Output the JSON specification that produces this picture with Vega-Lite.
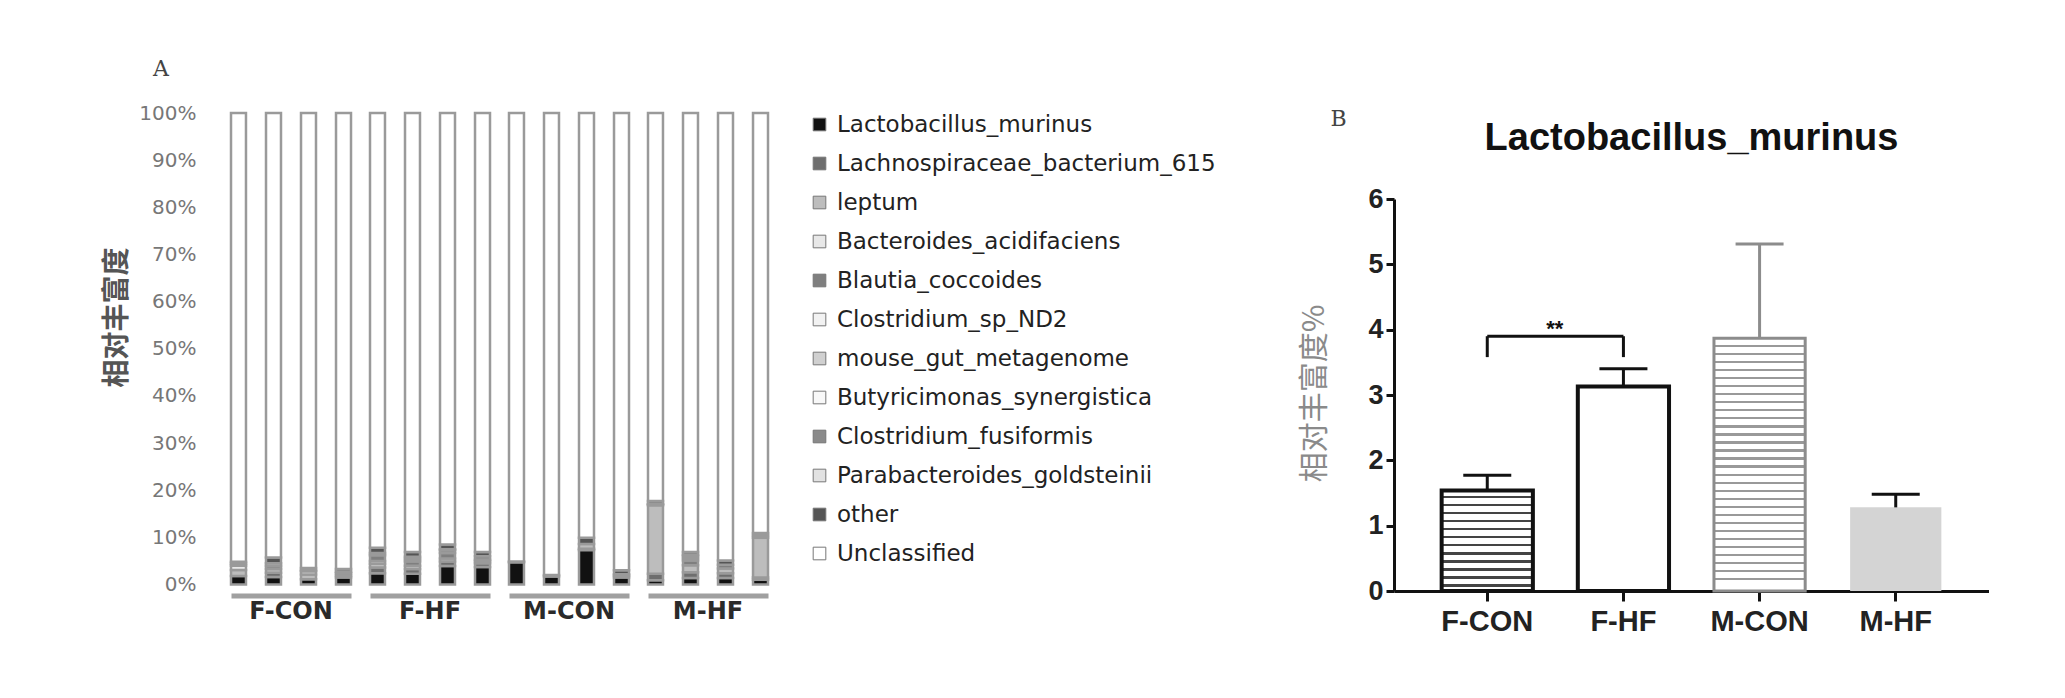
{
  "$schema": "https://vega.github.io/schema/vega-lite/v6.json",
  "background": "white",
  "padding": {"left": 103, "top": 58, "right": 0, "bottom": 0},
  "spacing": 83,
  "resolve": {"legend": {"color": "independent"}},
  "config": {"view": {"stroke": null}, "axis": {"grid": false}},
  "datasets": {
    "taxa": [
      {"taxon": "Lactobacillus_murinus", "rank": 1},
      {"taxon": "Lachnospiraceae_bacterium_615", "rank": 2},
      {"taxon": "leptum", "rank": 3},
      {"taxon": "Bacteroides_acidifaciens", "rank": 4},
      {"taxon": "Blautia_coccoides", "rank": 5},
      {"taxon": "Clostridium_sp_ND2", "rank": 6},
      {"taxon": "mouse_gut_metagenome", "rank": 7},
      {"taxon": "Butyricimonas_synergistica", "rank": 8},
      {"taxon": "Clostridium_fusiformis", "rank": 9},
      {"taxon": "Parabacteroides_goldsteinii", "rank": 10},
      {"taxon": "other", "rank": 11},
      {"taxon": "Unclassified", "rank": 12}
    ],
    "samples": [
      {"sample": "F-CON-1", "group": "F-CON", "Lactobacillus_murinus": 1.8, "leptum": 1.3, "Bacteroides_acidifaciens": 0.9, "Clostridium_sp_ND2": 0.4, "Parabacteroides_goldsteinii": 0.4, "Unclassified": 95.2},
      {"sample": "F-CON-2", "group": "F-CON", "Lactobacillus_murinus": 1.6, "Lachnospiraceae_bacterium_615": 0.9, "leptum": 0.8, "Blautia_coccoides": 0.6, "mouse_gut_metagenome": 0.6, "other": 1.2, "Unclassified": 94.3},
      {"sample": "F-CON-3", "group": "F-CON", "Lactobacillus_murinus": 1.1, "leptum": 1.0, "Bacteroides_acidifaciens": 0.7, "Clostridium_sp_ND2": 0.2, "other": 0.5, "Unclassified": 96.5},
      {"sample": "F-CON-4", "group": "F-CON", "Lactobacillus_murinus": 1.5, "Lachnospiraceae_bacterium_615": 0.4, "leptum": 0.5, "Blautia_coccoides": 0.3, "other": 0.6, "Unclassified": 96.7},
      {"sample": "F-HF-1", "group": "F-HF", "Lactobacillus_murinus": 2.4, "Lachnospiraceae_bacterium_615": 1.2, "leptum": 0.8, "Bacteroides_acidifaciens": 0.6, "Blautia_coccoides": 1.2, "mouse_gut_metagenome": 0.5, "other": 1.1, "Unclassified": 92.2},
      {"sample": "F-HF-2", "group": "F-HF", "Lactobacillus_murinus": 2.3, "Lachnospiraceae_bacterium_615": 1.0, "leptum": 0.7, "Blautia_coccoides": 0.9, "mouse_gut_metagenome": 0.5, "Clostridium_fusiformis": 0.5, "other": 1.0, "Unclassified": 93.1},
      {"sample": "F-HF-3", "group": "F-HF", "Lactobacillus_murinus": 3.9, "Lachnospiraceae_bacterium_615": 1.0, "leptum": 0.6, "Blautia_coccoides": 1.2, "Clostridium_fusiformis": 0.6, "Parabacteroides_goldsteinii": 0.2, "other": 1.0, "Unclassified": 91.5},
      {"sample": "F-HF-4", "group": "F-HF", "Lactobacillus_murinus": 3.7, "Lachnospiraceae_bacterium_615": 0.8, "leptum": 0.5, "Bacteroides_acidifaciens": 0.3, "Blautia_coccoides": 0.7, "other": 0.9, "Unclassified": 93.1},
      {"sample": "M-CON-1", "group": "M-CON", "Lactobacillus_murinus": 4.7, "other": 0.2, "Unclassified": 95.1},
      {"sample": "M-CON-2", "group": "M-CON", "Lactobacillus_murinus": 1.7, "other": 0.3, "Unclassified": 98.0},
      {"sample": "M-CON-3", "group": "M-CON", "Lactobacillus_murinus": 7.3, "Lachnospiraceae_bacterium_615": 0.3, "leptum": 1.0, "other": 1.3, "Unclassified": 90.1},
      {"sample": "M-CON-4", "group": "M-CON", "Lactobacillus_murinus": 1.5, "leptum": 0.4, "Blautia_coccoides": 0.3, "other": 0.8, "Unclassified": 97.0},
      {"sample": "M-HF-1", "group": "M-HF", "Lactobacillus_murinus": 0.9, "Lachnospiraceae_bacterium_615": 1.4, "leptum": 14.5, "Bacteroides_acidifaciens": 0.2, "Blautia_coccoides": 0.1, "other": 0.6, "Unclassified": 82.3},
      {"sample": "M-HF-2", "group": "M-HF", "Lactobacillus_murinus": 1.4, "Lachnospiraceae_bacterium_615": 1.2, "leptum": 1.5, "Blautia_coccoides": 1.0, "mouse_gut_metagenome": 0.5, "Clostridium_fusiformis": 0.5, "Parabacteroides_goldsteinii": 0.2, "other": 0.6, "Unclassified": 93.1},
      {"sample": "M-HF-3", "group": "M-HF", "Lactobacillus_murinus": 1.4, "Lachnospiraceae_bacterium_615": 1.0, "leptum": 1.0, "Blautia_coccoides": 0.8, "other": 0.9, "Unclassified": 94.9},
      {"sample": "M-HF-4", "group": "M-HF", "Lactobacillus_murinus": 1.0, "Lachnospiraceae_bacterium_615": 0.5, "leptum": 8.4, "Bacteroides_acidifaciens": 0.5, "other": 0.5, "Unclassified": 89.1}
    ],
    "groups": [
      {"group": "F-CON", "mean": 1.54, "upper": 1.77},
      {"group": "F-HF", "mean": 3.13, "upper": 3.40},
      {"group": "M-CON", "mean": 3.87, "upper": 5.31},
      {"group": "M-HF", "mean": 1.28, "upper": 1.48}
    ],
    "bracket": [
      {"from": "F-CON", "to": "F-HF", "top": 3.9, "bottom": 3.58, "label": "**"}
    ],
    "heading": [
      {"taxon": "Lactobacillus_murinus"}
    ]
  },
  "hconcat": [
    {
      "data": {"name": "samples"},
      "transform": [
        {"fold": ["Lactobacillus_murinus", "Lachnospiraceae_bacterium_615", "leptum", "Bacteroides_acidifaciens", "Blautia_coccoides", "Clostridium_sp_ND2", "mouse_gut_metagenome", "Butyricimonas_synergistica", "Clostridium_fusiformis", "Parabacteroides_goldsteinii", "other", "Unclassified"], "as": ["taxon", "value"]},
        {"filter": "datum.value > 0"},
        {"lookup": "taxon", "from": {"data": {"name": "taxa"}, "key": "taxon", "fields": ["rank"]}}
      ],
      "title": {"text": "A", "anchor": "start", "dx": 50, "offset": 0, "baseline": "bottom", "font": "DejaVu Serif", "fontSize": 22, "fontWeight": "normal", "color": "#444"},
      "facet": {
        "column": {
          "field": "group", "type": "nominal", "sort": ["F-CON", "F-HF", "M-CON", "M-HF"],
          "header": {"title": null, "labelOrient": "bottom", "labelFont": "DejaVu Sans", "labelFontSize": 24, "labelFontWeight": "bold", "labelColor": "#2a2a2a", "labelPadding": 4}
        }
      },
      "spacing": 15,
      "resolve": {"scale": {"x": "independent"}},
      "spec": {
        "width": 120,
        "height": 471.5,
        "mark": {"type": "bar", "stroke": "#9a9a9a", "strokeWidth": 2.5},
        "encoding": {
          "x": {"field": "sample", "type": "nominal", "scale": {"paddingInner": 0.572, "paddingOuter": 0},
                "axis": {"labels": false, "ticks": false, "title": null, "domainColor": "#a0a0a0", "domainWidth": 5, "offset": 11}},
          "y": {"field": "value", "type": "quantitative", "stack": "zero", "scale": {"domain": [0, 100], "nice": false},
                "axis": {"values": [0, 10, 20, 30, 40, 50, 60, 70, 80, 90, 100], "labelExpr": "datum.value + '%'", "domain": false, "ticks": false, "tickSize": 0, "labelPadding": 33, "labelFont": "DejaVu Sans", "labelFontSize": 20, "labelColor": "#777",
                         "title": "相对丰富度", "titleFont": "Noto Sans CJK SC", "titleFontSize": 28, "titleFontWeight": "bold", "titleColor": "#555", "titleX": -112, "titleY": 204, "titleAngle": 270, "titleAlign": "center", "titleBaseline": "middle"}},
          "color": {"field": "taxon", "type": "nominal",
                    "scale": {"domain": ["Lactobacillus_murinus", "Lachnospiraceae_bacterium_615", "leptum", "Bacteroides_acidifaciens", "Blautia_coccoides", "Clostridium_sp_ND2", "mouse_gut_metagenome", "Butyricimonas_synergistica", "Clostridium_fusiformis", "Parabacteroides_goldsteinii", "other", "Unclassified"],
                              "range": ["#111111", "#6e6e6e", "#bdbdbd", "#e8e8e8", "#7f7f7f", "#f2f2f2", "#d0d0d0", "#f8f8f8", "#8a8a8a", "#e2e2e2", "#555555", "#ffffff"]},
                    "legend": {"title": null, "orient": "right", "offset": 38, "padding": 0, "labelFont": "DejaVu Sans", "labelFontSize": 23, "labelColor": "#222", "labelLimit": 420, "labelOffset": 6, "rowPadding": 15, "symbolType": "square", "symbolSize": 160, "symbolStrokeColor": "#777", "symbolStrokeWidth": 1}},
          "order": {"field": "rank", "type": "quantitative", "sort": "ascending"}
        }
      }
    },
    {
      "width": 595,
      "height": 478,
      "data": {"name": "groups"},
      "layer": [
        {
          "transform": [{"filter": "datum.group === 'F-CON'"}],
          "mark": {"type": "bar", "stroke": "#111", "strokeWidth": 4,
                   "fill": {"gradient": "linear", "x1": 0, "y1": 0, "x2": 0, "y2": 1, "stops": [
                     {"offset": 0, "color": "#fff"},
                     {"offset": 0.0546, "color": "#fff"}, {"offset": 0.0546, "color": "#444"}, {"offset": 0.0785, "color": "#444"}, {"offset": 0.0785, "color": "#fff"},
                     {"offset": 0.1345, "color": "#fff"}, {"offset": 0.1345, "color": "#444"}, {"offset": 0.1583, "color": "#444"}, {"offset": 0.1583, "color": "#fff"},
                     {"offset": 0.2143, "color": "#fff"}, {"offset": 0.2143, "color": "#444"}, {"offset": 0.2381, "color": "#444"}, {"offset": 0.2381, "color": "#fff"},
                     {"offset": 0.2941, "color": "#fff"}, {"offset": 0.2941, "color": "#444"}, {"offset": 0.3180, "color": "#444"}, {"offset": 0.3180, "color": "#fff"},
                     {"offset": 0.3740, "color": "#fff"}, {"offset": 0.3740, "color": "#444"}, {"offset": 0.3978, "color": "#444"}, {"offset": 0.3978, "color": "#fff"},
                     {"offset": 0.4538, "color": "#fff"}, {"offset": 0.4538, "color": "#444"}, {"offset": 0.4777, "color": "#444"}, {"offset": 0.4777, "color": "#fff"},
                     {"offset": 0.5337, "color": "#fff"}, {"offset": 0.5337, "color": "#444"}, {"offset": 0.5575, "color": "#444"}, {"offset": 0.5575, "color": "#fff"},
                     {"offset": 0.6135, "color": "#fff"}, {"offset": 0.6135, "color": "#444"}, {"offset": 0.6373, "color": "#444"}, {"offset": 0.6373, "color": "#fff"},
                     {"offset": 0.6933, "color": "#fff"}, {"offset": 0.6933, "color": "#444"}, {"offset": 0.7172, "color": "#444"}, {"offset": 0.7172, "color": "#fff"},
                     {"offset": 0.7732, "color": "#fff"}, {"offset": 0.7732, "color": "#444"}, {"offset": 0.7970, "color": "#444"}, {"offset": 0.7970, "color": "#fff"},
                     {"offset": 0.8530, "color": "#fff"}, {"offset": 0.8530, "color": "#444"}, {"offset": 0.8769, "color": "#444"}, {"offset": 0.8769, "color": "#fff"},
                     {"offset": 0.9329, "color": "#fff"}, {"offset": 0.9329, "color": "#444"}, {"offset": 0.9567, "color": "#444"}, {"offset": 0.9567, "color": "#fff"},
                     {"offset": 1, "color": "#fff"}
                   ]}},
          "encoding": {
            "x": {"field": "group", "type": "nominal",
                  "scale": {"domain": ["F-CON", "F-HF", "M-CON", "M-HF"], "paddingInner": 0.33, "paddingOuter": 0.35},
                  "axis": {"labelAngle": 0, "labelFont": "Liberation Sans", "labelFontSize": 29, "labelFontWeight": "bold", "labelColor": "#222", "labelPadding": 6,
                           "domainColor": "#111", "domainWidth": 3, "tickColor": "#111", "tickWidth": 3, "tickSize": 10,
                           "title": "B", "titleFont": "DejaVu Serif", "titleFontSize": 22, "titleFontWeight": "normal", "titleColor": "#444", "titleX": -56, "titleY": -473, "titleAngle": 0, "titleAlign": "center", "titleBaseline": "middle"}},
            "y": {"field": "mean", "type": "quantitative",
                  "scale": {"domain": [0, 6], "range": [478, 86], "nice": false},
                  "axis": {"values": [0, 1, 2, 3, 4, 5, 6], "format": "d", "labelFont": "Liberation Sans", "labelFontSize": 27, "labelFontWeight": "bold", "labelColor": "#222", "labelPadding": 3,
                           "domainColor": "#111", "domainWidth": 3, "tickColor": "#111", "tickWidth": 3, "tickSize": 8,
                           "title": "相对丰富度%", "titleFont": "Noto Sans CJK SC", "titleFontSize": 30, "titleFontWeight": "normal", "titleColor": "#8a8a8a", "titleX": -80, "titleY": 280, "titleAngle": 270, "titleAlign": "center", "titleBaseline": "middle"}}
          }
        },
        {
          "transform": [{"filter": "datum.group === 'F-HF'"}],
          "mark": {"type": "bar", "stroke": "#111", "strokeWidth": 4, "fill": "#ffffff"},
          "encoding": {"x": {"field": "group", "type": "nominal"}, "y": {"field": "mean", "type": "quantitative"}}
        },
        {
          "transform": [{"filter": "datum.group === 'M-CON'"}],
          "mark": {"type": "bar", "stroke": "#8c8c8c", "strokeWidth": 3,
                   "fill": {"gradient": "linear", "x1": 0, "y1": 0, "x2": 0, "y2": 1, "stops": [
                     {"offset": 0, "color": "#fff"},
                     {"offset": 0.0269, "color": "#fff"}, {"offset": 0.0269, "color": "#999"}, {"offset": 0.0356, "color": "#999"}, {"offset": 0.0356, "color": "#fff"},
                     {"offset": 0.0587, "color": "#fff"}, {"offset": 0.0587, "color": "#999"}, {"offset": 0.0674, "color": "#999"}, {"offset": 0.0674, "color": "#fff"},
                     {"offset": 0.0904, "color": "#fff"}, {"offset": 0.0904, "color": "#999"}, {"offset": 0.0991, "color": "#999"}, {"offset": 0.0991, "color": "#fff"},
                     {"offset": 0.1222, "color": "#fff"}, {"offset": 0.1222, "color": "#999"}, {"offset": 0.1309, "color": "#999"}, {"offset": 0.1309, "color": "#fff"},
                     {"offset": 0.1540, "color": "#fff"}, {"offset": 0.1540, "color": "#999"}, {"offset": 0.1627, "color": "#999"}, {"offset": 0.1627, "color": "#fff"},
                     {"offset": 0.1858, "color": "#fff"}, {"offset": 0.1858, "color": "#999"}, {"offset": 0.1945, "color": "#999"}, {"offset": 0.1945, "color": "#fff"},
                     {"offset": 0.2175, "color": "#fff"}, {"offset": 0.2175, "color": "#999"}, {"offset": 0.2262, "color": "#999"}, {"offset": 0.2262, "color": "#fff"},
                     {"offset": 0.2493, "color": "#fff"}, {"offset": 0.2493, "color": "#999"}, {"offset": 0.2580, "color": "#999"}, {"offset": 0.2580, "color": "#fff"},
                     {"offset": 0.2811, "color": "#fff"}, {"offset": 0.2811, "color": "#999"}, {"offset": 0.2898, "color": "#999"}, {"offset": 0.2898, "color": "#fff"},
                     {"offset": 0.3129, "color": "#fff"}, {"offset": 0.3129, "color": "#999"}, {"offset": 0.3216, "color": "#999"}, {"offset": 0.3216, "color": "#fff"},
                     {"offset": 0.3447, "color": "#fff"}, {"offset": 0.3447, "color": "#999"}, {"offset": 0.3534, "color": "#999"}, {"offset": 0.3534, "color": "#fff"},
                     {"offset": 0.3764, "color": "#fff"}, {"offset": 0.3764, "color": "#999"}, {"offset": 0.3851, "color": "#999"}, {"offset": 0.3851, "color": "#fff"},
                     {"offset": 0.4082, "color": "#fff"}, {"offset": 0.4082, "color": "#999"}, {"offset": 0.4169, "color": "#999"}, {"offset": 0.4169, "color": "#fff"},
                     {"offset": 0.4400, "color": "#fff"}, {"offset": 0.4400, "color": "#999"}, {"offset": 0.4487, "color": "#999"}, {"offset": 0.4487, "color": "#fff"},
                     {"offset": 0.4718, "color": "#fff"}, {"offset": 0.4718, "color": "#999"}, {"offset": 0.4805, "color": "#999"}, {"offset": 0.4805, "color": "#fff"},
                     {"offset": 0.5036, "color": "#fff"}, {"offset": 0.5036, "color": "#999"}, {"offset": 0.5123, "color": "#999"}, {"offset": 0.5123, "color": "#fff"},
                     {"offset": 0.5353, "color": "#fff"}, {"offset": 0.5353, "color": "#999"}, {"offset": 0.5440, "color": "#999"}, {"offset": 0.5440, "color": "#fff"},
                     {"offset": 0.5671, "color": "#fff"}, {"offset": 0.5671, "color": "#999"}, {"offset": 0.5758, "color": "#999"}, {"offset": 0.5758, "color": "#fff"},
                     {"offset": 0.5989, "color": "#fff"}, {"offset": 0.5989, "color": "#999"}, {"offset": 0.6076, "color": "#999"}, {"offset": 0.6076, "color": "#fff"},
                     {"offset": 0.6307, "color": "#fff"}, {"offset": 0.6307, "color": "#999"}, {"offset": 0.6394, "color": "#999"}, {"offset": 0.6394, "color": "#fff"},
                     {"offset": 0.6625, "color": "#fff"}, {"offset": 0.6625, "color": "#999"}, {"offset": 0.6711, "color": "#999"}, {"offset": 0.6711, "color": "#fff"},
                     {"offset": 0.6942, "color": "#fff"}, {"offset": 0.6942, "color": "#999"}, {"offset": 0.7029, "color": "#999"}, {"offset": 0.7029, "color": "#fff"},
                     {"offset": 0.7260, "color": "#fff"}, {"offset": 0.7260, "color": "#999"}, {"offset": 0.7347, "color": "#999"}, {"offset": 0.7347, "color": "#fff"},
                     {"offset": 0.7578, "color": "#fff"}, {"offset": 0.7578, "color": "#999"}, {"offset": 0.7665, "color": "#999"}, {"offset": 0.7665, "color": "#fff"},
                     {"offset": 0.7896, "color": "#fff"}, {"offset": 0.7896, "color": "#999"}, {"offset": 0.7983, "color": "#999"}, {"offset": 0.7983, "color": "#fff"},
                     {"offset": 0.8213, "color": "#fff"}, {"offset": 0.8213, "color": "#999"}, {"offset": 0.8300, "color": "#999"}, {"offset": 0.8300, "color": "#fff"},
                     {"offset": 0.8531, "color": "#fff"}, {"offset": 0.8531, "color": "#999"}, {"offset": 0.8618, "color": "#999"}, {"offset": 0.8618, "color": "#fff"},
                     {"offset": 0.8849, "color": "#fff"}, {"offset": 0.8849, "color": "#999"}, {"offset": 0.8936, "color": "#999"}, {"offset": 0.8936, "color": "#fff"},
                     {"offset": 0.9167, "color": "#fff"}, {"offset": 0.9167, "color": "#999"}, {"offset": 0.9254, "color": "#999"}, {"offset": 0.9254, "color": "#fff"},
                     {"offset": 0.9485, "color": "#fff"}, {"offset": 0.9485, "color": "#999"}, {"offset": 0.9571, "color": "#999"}, {"offset": 0.9571, "color": "#fff"},
                     {"offset": 1, "color": "#fff"}
                   ]}},
          "encoding": {"x": {"field": "group", "type": "nominal"}, "y": {"field": "mean", "type": "quantitative"}}
        },
        {
          "transform": [{"filter": "datum.group === 'M-HF'"}],
          "mark": {"type": "bar", "fill": "#d4d4d4", "strokeWidth": 0},
          "encoding": {"x": {"field": "group", "type": "nominal"}, "y": {"field": "mean", "type": "quantitative"}}
        },
        {
          "mark": {"type": "rule", "strokeWidth": 3},
          "encoding": {
            "x": {"field": "group", "type": "nominal"},
            "y": {"field": "mean", "type": "quantitative"},
            "y2": {"field": "upper"},
            "color": {"condition": {"test": "datum.group === 'M-CON'", "value": "#8c8c8c"}, "value": "#111"}
          }
        },
        {
          "mark": {"type": "tick", "size": 48, "thickness": 3, "opacity": 1},
          "encoding": {
            "x": {"field": "group", "type": "nominal"},
            "y": {"field": "upper", "type": "quantitative"},
            "color": {"condition": {"test": "datum.group === 'M-CON'", "value": "#8c8c8c"}, "value": "#111"}
          }
        },
        {
          "data": {"name": "bracket"},
          "mark": {"type": "rule", "strokeWidth": 3, "color": "#111"},
          "encoding": {
            "x": {"field": "from", "type": "nominal"},
            "x2": {"field": "to"},
            "y": {"field": "top", "type": "quantitative"}
          }
        },
        {
          "data": {"name": "bracket"},
          "mark": {"type": "rule", "strokeWidth": 3, "color": "#111"},
          "encoding": {
            "x": {"field": "from", "type": "nominal"},
            "y": {"field": "bottom", "type": "quantitative"},
            "y2": {"field": "top"}
          }
        },
        {
          "data": {"name": "bracket"},
          "mark": {"type": "rule", "strokeWidth": 3, "color": "#111"},
          "encoding": {
            "x": {"field": "to", "type": "nominal"},
            "y": {"field": "bottom", "type": "quantitative"},
            "y2": {"field": "top"}
          }
        },
        {
          "data": {"name": "bracket"},
          "mark": {"type": "text", "font": "Liberation Sans", "fontSize": 22, "fontWeight": "bold", "baseline": "alphabetic", "color": "#111"},
          "encoding": {
            "x": {"field": "from", "type": "nominal", "bandPosition": 1.24},
            "y": {"field": "top", "type": "quantitative"},
            "text": {"field": "label"}
          }
        },
        {
          "data": {"name": "heading"},
          "mark": {"type": "text", "font": "Liberation Sans", "fontSize": 38, "fontWeight": "bold", "baseline": "alphabetic", "align": "center", "color": "#111"},
          "encoding": {
            "y": {"datum": 6.757, "type": "quantitative"},
            "text": {"field": "taxon"}
          }
        }
      ]
    }
  ]
}
